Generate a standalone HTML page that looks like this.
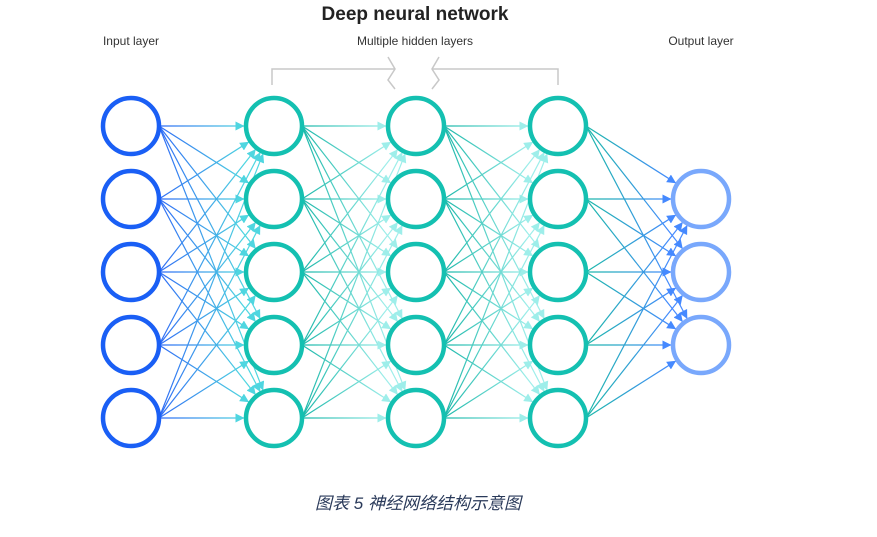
<!DOCTYPE html>
<html><head><meta charset="utf-8"><style>
html,body{margin:0;padding:0;background:#fff;}
body{width:877px;height:532px;overflow:hidden;position:relative;font-family:"Liberation Sans","Noto Sans CJK SC",sans-serif;}
</style></head><body>
<svg id="s" width="877" height="532" xmlns="http://www.w3.org/2000/svg">
<defs>
<linearGradient id="g0" gradientUnits="userSpaceOnUse" x1="160" y1="0" x2="245" y2="0"><stop offset="0" stop-color="#2f6cf5"/><stop offset="1" stop-color="#4fd6e0"/></linearGradient>
<linearGradient id="g1" gradientUnits="userSpaceOnUse" x1="303" y1="0" x2="387" y2="0"><stop offset="0" stop-color="#1cb8aa"/><stop offset="1" stop-color="#9eeeea"/></linearGradient>
<linearGradient id="g2" gradientUnits="userSpaceOnUse" x1="445" y1="0" x2="529" y2="0"><stop offset="0" stop-color="#1cb8aa"/><stop offset="1" stop-color="#9eeeea"/></linearGradient>
<linearGradient id="g3" gradientUnits="userSpaceOnUse" x1="587" y1="0" x2="672" y2="0"><stop offset="0" stop-color="#1cb8aa"/><stop offset="1" stop-color="#4589ff"/></linearGradient>
<marker id="m0" viewBox="0 0 10 10" refX="10" refY="5" markerWidth="9" markerHeight="9" markerUnits="userSpaceOnUse" orient="auto"><path d="M0,0L10,5L0,10z" fill="#4fd6e0"/></marker>
<marker id="m1" viewBox="0 0 10 10" refX="10" refY="5" markerWidth="9" markerHeight="9" markerUnits="userSpaceOnUse" orient="auto"><path d="M0,0L10,5L0,10z" fill="#9eeeea"/></marker>
<marker id="m2" viewBox="0 0 10 10" refX="10" refY="5" markerWidth="9" markerHeight="9" markerUnits="userSpaceOnUse" orient="auto"><path d="M0,0L10,5L0,10z" fill="#9eeeea"/></marker>
<marker id="m3" viewBox="0 0 10 10" refX="10" refY="5" markerWidth="9" markerHeight="9" markerUnits="userSpaceOnUse" orient="auto"><path d="M0,0L10,5L0,10z" fill="#4589ff"/></marker>
</defs>
<text x="415" y="20" text-anchor="middle" font-size="19" font-weight="bold" fill="#222">Deep neural network</text>
<text x="131" y="45" text-anchor="middle" font-size="12" fill="#333">Input layer</text>
<text x="415" y="45" text-anchor="middle" font-size="12" fill="#333">Multiple hidden layers</text>
<text x="701" y="45" text-anchor="middle" font-size="12" fill="#333">Output layer</text>
<g fill="none" stroke="#c8c8c8" stroke-width="1.5">
<path d="M272,85V69H395"/><path d="M388,57L395,69L388,80L395,89"/>
<path d="M558,85V69H432"/><path d="M439,57L432,69L439,80L432,89"/>
</g>
<g id="lines"></g><g id="nodes"></g>
<text x="418" y="509" text-anchor="middle" font-size="17" font-style="italic" fill="#2a3a5a" font-family="'Liberation Sans','Noto Sans CJK SC',sans-serif">图表 5 神经网络结构示意图</text>
</svg>
<script>
var NS="http://www.w3.org/2000/svg";
var L=[[131,[126,199,272,345,418],"#1a5ff5"],[274,[126,199,272,345,418],"#14c0b1"],[416,[126,199,272,345,418],"#14c0b1"],[558,[126,199,272,345,418],"#14c0b1"],[701,[199,272,345],"#79a8fc"]];
var r=28,lg=document.getElementById("lines"),ng=document.getElementById("nodes");
for(var i=0;i<4;i++){var a=L[i],b=L[i+1];
 a[1].forEach(function(y1){b[1].forEach(function(y2){
  var sx=a[0]+r,sy=y1,dx=b[0]-sx,dy=y2-sy,d=Math.sqrt(dx*dx+dy*dy);
  var ex=b[0]-(r+1.5)*dx/d,ey=y2-(r+1.5)*dy/d;
  var l=document.createElementNS(NS,"line");
  l.setAttribute("x1",sx);l.setAttribute("y1",sy);l.setAttribute("x2",ex);l.setAttribute("y2",ey);
  l.setAttribute("stroke","url(#g"+i+")");l.setAttribute("stroke-width","1.2");l.setAttribute("marker-end","url(#m"+i+")");
  lg.appendChild(l);});});}
L.forEach(function(a){a[1].forEach(function(y){var c=document.createElementNS(NS,"circle");
 c.setAttribute("cx",a[0]);c.setAttribute("cy",y);c.setAttribute("r",r);c.setAttribute("fill","#fff");
 c.setAttribute("stroke",a[2]);c.setAttribute("stroke-width","4.5");ng.appendChild(c);});});
</script>
</body></html>
